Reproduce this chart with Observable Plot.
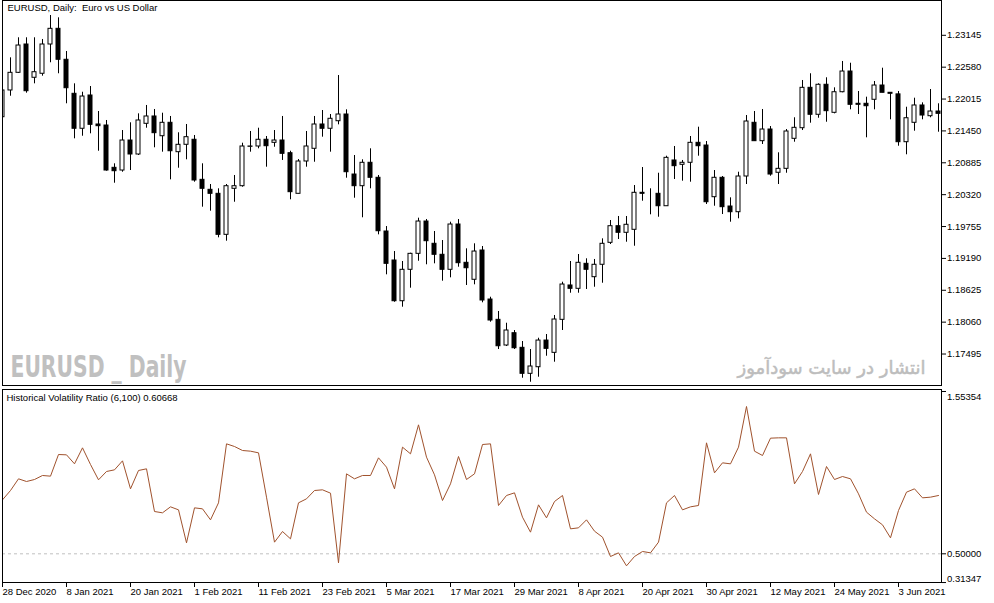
<!DOCTYPE html>
<html><head><meta charset="utf-8">
<script src="https://cdn.jsdelivr.net/npm/d3@7"></script>
<script src="https://cdn.jsdelivr.net/npm/@observablehq/plot@0.6"></script>
<style>
body{margin:0;background:#fff;}
#wrap{position:relative;width:994px;height:603px;overflow:hidden;background:#fff;}
#top,#bot{position:absolute;left:0;}
#top{top:0px;} #bot{top:387px;}
</style></head><body><div id="wrap"><div id="top"></div><div id="bot"></div></div>
<script>
const open=[1.21693,1.22167,1.22480,1.22982,1.22392,1.22463,1.22982,1.23260,1.22711,1.22108,
1.21488,1.22078,1.21564,1.21546,1.20796,1.20748,1.21280,1.21032,1.21576,1.21706,
1.21356,1.21594,1.21073,1.21204,1.21293,1.20583,1.20406,1.20335,1.19608,1.20424,
1.20470,1.21168,1.21174,1.21293,1.21239,1.21280,1.21055,1.20335,1.20908,1.21133,
1.21564,1.21488,1.21622,1.21741,1.20677,1.20470,1.20885,1.20619,1.19667,1.19153,
1.18431,1.18988,1.19271,1.19844,1.19449,1.19254,1.18988,1.19791,1.19112,1.18811,
1.19330,1.18461,1.18101,1.17646,1.17864,1.17605,1.17144,1.17261,1.17734,1.17516,
1.18101,1.18710,1.18651,1.19094,1.18857,1.19077,1.19466,1.19761,1.19644,1.19697,
1.20353,1.20340,1.20335,1.20115,1.20926,1.20849,1.20885,1.21239,1.21191,1.20275,
1.20619,1.20110,1.20009,1.20642,1.21594,1.21268,1.21475,1.20708,1.20778,1.21310,
1.21498,1.22214,1.21736,1.22268,1.21771,1.22136,1.22503,1.21931,1.21931,1.22002,
1.22255,1.22126,1.22098,1.21250,1.21594,1.21901,1.21711,1.21794];
const high=[1.22237,1.22746,1.23101,1.23101,1.23101,1.23071,1.23496,1.23455,1.22858,1.22285,
1.22136,1.22237,1.21794,1.21635,1.20867,1.21457,1.21594,1.21753,1.21901,1.21830,
1.21764,1.21706,1.21417,1.21564,1.21369,1.20867,1.20500,1.20424,1.20500,1.20660,
1.21232,1.21440,1.21498,1.21351,1.21457,1.21706,1.21090,1.20943,1.21440,1.21706,
1.21812,1.21741,1.22432,1.21824,1.21014,1.20938,1.21133,1.20660,1.19755,1.19312,
1.19135,1.19282,1.19903,1.19880,1.19667,1.19507,1.19832,1.19880,1.19360,1.19449,
1.19401,1.18502,1.18249,1.18041,1.17912,1.17717,1.17575,1.17775,1.17841,1.18178,
1.18768,1.19135,1.19259,1.19183,1.19171,1.19537,1.19862,1.19933,1.19933,1.20482,
1.20801,1.20424,1.20700,1.21002,1.21174,1.20926,1.21351,1.21516,1.21262,1.20748,
1.20642,1.20264,1.20718,1.21723,1.21794,1.21830,1.21528,1.21062,1.21475,1.21683,
1.22344,1.22463,1.22285,1.22392,1.22214,1.22681,1.22650,1.22149,1.22048,1.22326,
1.22562,1.22126,1.22149,1.21870,1.22030,1.21948,1.22184,1.21931];
const low=[1.21670,1.22065,1.22468,1.22119,1.22285,1.22420,1.22658,1.22463,1.21931,1.21310,
1.21356,1.21399,1.21090,1.20736,1.20523,1.20718,1.20748,1.21014,1.21498,1.21151,
1.21073,1.20583,1.20789,1.20938,1.20541,1.20098,1.20027,1.19555,1.19495,1.20186,
1.20452,1.21073,1.21133,1.20807,1.21161,1.20926,1.20229,1.20335,1.20807,1.20895,
1.21339,1.21073,1.21558,1.20612,1.20257,1.19910,1.20424,1.19608,1.18899,1.18413,
1.18325,1.18662,1.19140,1.19077,1.19094,1.18786,1.18846,1.19034,1.18710,1.18722,
1.18403,1.18059,1.17575,1.17628,1.17575,1.17066,1.16995,1.17084,1.17456,1.17350,
1.17912,1.18573,1.18573,1.18639,1.18679,1.18750,1.19436,1.19525,1.19477,1.19406,
1.20204,1.19963,1.19920,1.20115,1.20589,1.20559,1.20541,1.21002,1.20146,1.20115,
1.19968,1.19832,1.19892,1.20500,1.21268,1.21209,1.20647,1.20500,1.20700,1.21250,
1.21457,1.21587,1.21675,1.21604,1.21753,1.22126,1.21824,1.21741,1.21328,1.21824,
1.22126,1.21647,1.21179,1.21027,1.21445,1.21647,1.21683,1.21427];
const close=[1.22167,1.22480,1.22964,1.22154,1.22491,1.22982,1.23260,1.22711,1.22207,1.21488,
1.22060,1.21558,1.21534,1.20748,1.20736,1.21280,1.21032,1.21635,1.21706,1.21410,
1.21594,1.21090,1.21204,1.21339,1.20571,1.20424,1.20335,1.19608,1.20470,1.20470,
1.21174,1.21174,1.21293,1.21179,1.21280,1.21044,1.20364,1.20908,1.21174,1.21564,
1.21488,1.21665,1.21741,1.20718,1.20470,1.20885,1.20619,1.19672,1.19094,1.18431,
1.18988,1.19271,1.19844,1.19495,1.19254,1.18988,1.19791,1.19105,1.19016,1.19312,
1.18444,1.18089,1.17633,1.17912,1.17598,1.17144,1.17274,1.17734,1.17587,1.18107,
1.18727,1.18651,1.19112,1.18988,1.19077,1.19449,1.19761,1.19644,1.19786,1.20353,
1.20335,1.20340,1.20115,1.20973,1.20825,1.20885,1.21239,1.21179,1.20186,1.20619,
1.20098,1.20009,1.20642,1.21617,1.21268,1.21475,1.20677,1.20778,1.21440,1.21505,
1.22214,1.21736,1.22268,1.21800,1.22136,1.22503,1.21913,1.21913,1.21888,1.22255,
1.22126,1.22108,1.21250,1.21675,1.21901,1.21723,1.21794,1.21753];
const hvr=[0.8503,0.9109,0.9867,0.9693,0.9823,1.0083,1.0040,1.1446,1.1424,1.0840,
1.1879,1.0797,0.9802,1.0343,1.0451,1.1035,0.9217,1.0408,1.0516,0.7746,
0.7660,0.8049,0.7854,0.5712,0.7984,0.7919,0.7205,0.8309,1.2138,1.1965,
1.1706,1.1662,1.1554,0.8677,0.5756,0.6448,0.5972,0.8309,0.8568,0.9109,
0.9153,0.8936,0.4414,1.0191,0.9867,1.0083,1.0083,1.1230,1.0624,0.9217,
1.1922,1.1489,1.3372,1.1273,1.0126,0.8460,0.9542,1.1316,0.9823,1.0191,
1.2095,1.2138,0.8136,0.8785,0.8958,0.7378,0.6405,0.8179,0.7335,0.8395,
0.8785,0.6621,0.6686,0.7205,0.6470,0.6080,0.4825,0.5063,0.4219,0.4825,
0.5150,0.5063,0.5756,0.8309,0.8785,0.7854,0.8049,0.8136,1.2203,1.0256,
1.0905,1.0840,1.1922,1.4562,1.1662,1.1381,1.2506,1.2528,1.2528,0.9542,
1.0343,1.1489,0.8850,1.0667,0.9823,1.0018,0.9867,0.8893,0.7703,0.7270,
0.6881,0.6037,0.7811,0.9001,0.9217,0.8633,0.8677,0.8785];
const dateTickBars=[0,8,16,24,32,40,48,56,64,72,80,88,96,104,112];
const dateTickLabels=["28 Dec 2020","8 Jan 2021","20 Jan 2021","1 Feb 2021","11 Feb 2021","23 Feb 2021","5 Mar 2021","17 Mar 2021","29 Mar 2021","8 Apr 2021","20 Apr 2021","30 Apr 2021","12 May 2021","24 May 2021","3 Jun 2021"];
const priceTicks=[1.23145,1.22580,1.22015,1.21450,1.20885,1.20320,1.19755,1.19190,1.18625,1.18060,1.17495];
const hvrTicks=[1.55354,0.50000,0.31347];
const hvrLevel=[0.5];
const titleMain="EURUSD, Daily:  Euro vs US Dollar";
const titleInd="Historical Volatility Ratio (6,100) 0.60668";
const wmLeft="EURUSD _ Daily";
const wmRight="انتشار در سایت سودآموز";

const candles=open.map((o,i)=>({i,o,h:high[i],l:low[i],c:close[i]}));
const ups=candles.filter(d=>d.c>=d.o), downs=candles.filter(d=>d.c<d.o);
const hvrData=hvr.map((v,i)=>({i,v}));
const labelOf=new Map(dateTickBars.map((b,k)=>[b,dateTickLabels[k]]));
const FONT="'Liberation Sans', Arial, sans-serif";
const xDomain=[0,117.375];

const topPlot=Plot.plot({
  width:994,height:387,marginLeft:2,marginRight:53,marginTop:0,marginBottom:2,
  x:{domain:xDomain,axis:null},
  y:{domain:[1.16937,1.23762],axis:null},
  style:{fontFamily:FONT,fontSize:"9.5px",background:"#fff",color:"#000"},
  marks:[
    Plot.text([wmLeft],{frameAnchor:"bottom-left",dx:8,dy:-9,text:d=>d,textAnchor:"start",lineAnchor:"bottom",fill:"#c0c0c0",fontSize:30,fontWeight:"bold",fontFamily:"'Liberation Sans Narrow','DejaVu Sans Condensed',Arial,sans-serif"}),
    Plot.text([wmRight],{frameAnchor:"bottom-left",dx:829,dy:-12,text:d=>d,textAnchor:"middle",lineAnchor:"bottom",fill:"#bdbdbd",stroke:"#bdbdbd",strokeWidth:0.5,fontSize:18,fontFamily:"'DejaVu Sans',sans-serif"}),
    Plot.ruleX(candles,{x:"i",y1:"l",y2:"h",stroke:"#000",strokeWidth:1,clip:"frame"}),
    Plot.rect(ups,{x1:d=>d.i-0.25,x2:d=>d.i+0.25,y1:"o",y2:"c",fill:"#fff",stroke:"#000",strokeWidth:1,clip:"frame"}),
    Plot.rect(downs,{x1:d=>d.i-0.25,x2:d=>d.i+0.25,y1:"o",y2:"c",fill:"#000",stroke:"#000",strokeWidth:1,clip:"frame"}),
    Plot.frame({stroke:"#000",strokeWidth:1}),
    Plot.axisY(priceTicks,{anchor:"right",label:null,tickSize:4,tickPadding:1.5,tickFormat:d=>d.toFixed(5)}),
    Plot.text([titleMain],{frameAnchor:"top-left",dx:5,dy:4,text:d=>d,textAnchor:"start",lineAnchor:"top",fill:"#000"})
  ]
});
document.getElementById("top").appendChild(topPlot);

const botPlot=Plot.plot({
  width:994,height:216,marginLeft:2,marginRight:53,marginTop:2,marginBottom:21,
  x:{domain:xDomain,label:null},
  y:{domain:[0.31376,1.56652],label:null},
  style:{fontFamily:FONT,fontSize:"9.5px",background:"#fff",color:"#000"},
  marks:[
    Plot.ruleY(hvrLevel,{stroke:"#c0c0c0",strokeDasharray:"3,3",clip:"frame"}),
    Plot.line(hvrData,{x:"i",y:"v",stroke:"#a0522d",strokeWidth:1,clip:"frame"}),
    Plot.frame({stroke:"#000",strokeWidth:1}),
    Plot.axisY(hvrTicks,{anchor:"right",label:null,tickSize:4,tickPadding:1.5,tickFormat:()=>""}),
    Plot.axisY([hvrTicks[0]],{anchor:"right",label:null,tickSize:0,tickPadding:5.5,dy:5,tickFormat:d=>d.toFixed(5)}),
    Plot.axisY([hvrTicks[1]],{anchor:"right",label:null,tickSize:0,tickPadding:5.5,tickFormat:d=>d.toFixed(5)}),
    Plot.axisY([hvrTicks[2]],{anchor:"right",label:null,tickSize:0,tickPadding:5.5,dy:-4,tickFormat:d=>d.toFixed(5)}),
    Plot.axisX(dateTickBars,{anchor:"bottom",label:null,tickSize:5,tickPadding:1,textAnchor:"start",tickFormat:d=>labelOf.get(d)}),
    Plot.text([titleInd],{frameAnchor:"top-left",dx:4,dy:5,text:d=>d,textAnchor:"start",lineAnchor:"top",fill:"#000"})
  ]
});
document.getElementById("bot").appendChild(botPlot);

d3.select(topPlot).selectAll("text").filter(function(){return this.textContent===wmLeft;})
  .attr("textLength",176).attr("lengthAdjust","spacingAndGlyphs");
</script></body></html>
